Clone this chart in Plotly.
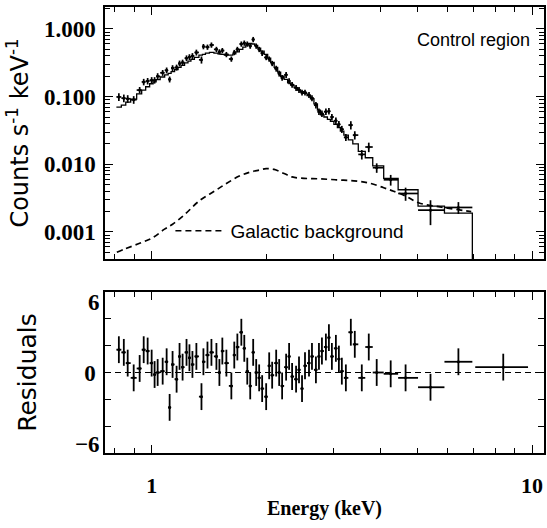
import numpy as np
import plotly.graph_objects as go

# ---------------- data ----------------
energy_kev = [0.820, 0.845, 0.865, 0.897, 0.930, 0.953, 0.976, 1.000, 1.018, 1.037,
              1.069, 1.095, 1.115, 1.135, 1.163, 1.184, 1.206, 1.235, 1.257, 1.280,
              1.311, 1.352, 1.368, 1.402, 1.436, 1.480, 1.507, 1.534, 1.572, 1.620,
              1.649, 1.680, 1.721, 1.752, 1.784, 1.816, 1.849, 1.883, 1.917, 1.952,
              2.000, 2.037, 2.074, 2.125, 2.164, 2.203, 2.257, 2.298, 2.340, 2.397,
              2.440, 2.485, 2.530, 2.592, 2.639, 2.703, 2.753, 2.803, 2.871, 2.924,
              2.977, 3.050, 3.106, 3.162, 3.240, 3.339, 3.420, 3.568, 3.722, 3.905,
              4.250, 4.651, 5.408, 6.403]

counts = [0.099, 0.095, 0.093, 0.090, 0.125, 0.165, 0.170, 0.175, 0.175, 0.200,
          0.225, 0.245, 0.180, 0.265, 0.270, 0.310, 0.320, 0.370, 0.385, 0.400,
          0.450, 0.350, 0.550, 0.540, 0.580, 0.500, 0.460, 0.480, 0.420, 0.360,
          0.450, 0.500, 0.600, 0.620, 0.600, 0.560, 0.700, 0.560, 0.500, 0.440,
          0.380, 0.360, 0.310, 0.260, 0.220, 0.190, 0.210, 0.170, 0.150, 0.135,
          0.126, 0.115, 0.115, 0.106, 0.095, 0.075, 0.060, 0.056, 0.060, 0.061,
          0.050, 0.044, 0.039, 0.033, 0.025, 0.038, 0.027, 0.014, 0.018, 0.0089,
          0.0059, 0.0037, 0.0021, 0.0023]

model = [0.070, 0.075, 0.083, 0.092, 0.110, 0.125, 0.140, 0.155, 0.165, 0.178,
         0.195, 0.210, 0.220, 0.235, 0.250, 0.270, 0.290, 0.315, 0.335, 0.355,
         0.380, 0.410, 0.420, 0.440, 0.450, 0.440, 0.430, 0.420, 0.410, 0.410,
         0.430, 0.460, 0.500, 0.540, 0.580, 0.610, 0.600, 0.570, 0.520, 0.470,
         0.420, 0.370, 0.320, 0.270, 0.230, 0.200, 0.180, 0.160, 0.148, 0.136,
         0.125, 0.118, 0.112, 0.104, 0.093, 0.078, 0.063, 0.054, 0.050, 0.046,
         0.043, 0.039, 0.035, 0.031, 0.027, 0.023, 0.020, 0.0155, 0.0125, 0.0095,
         0.0062, 0.0042, 0.0024, 0.0019]

rel_err = [0.13, 0.13, 0.13, 0.13, 0.11, 0.11, 0.11, 0.11, 0.11, 0.11,
           0.10, 0.10, 0.10, 0.10, 0.10, 0.10, 0.10, 0.10, 0.10, 0.10,
           0.10, 0.12, 0.09, 0.09, 0.09, 0.09, 0.09, 0.09, 0.09, 0.09,
           0.09, 0.09, 0.09, 0.09, 0.09, 0.09, 0.09, 0.09, 0.09, 0.09,
           0.09, 0.09, 0.09, 0.10, 0.10, 0.10, 0.10, 0.10, 0.10, 0.10,
           0.10, 0.10, 0.10, 0.10, 0.10, 0.11, 0.11, 0.11, 0.11, 0.11,
           0.11, 0.12, 0.12, 0.12, 0.12, 0.14, 0.14, 0.16, 0.16, 0.16,
           0.18, 0.22, 0.40, 0.20]

residuals = [1.7, 1.5, 0.7, -0.4, 0.3, 1.7, 1.6, 0.7, -0.15, 0.0,
             0.1, 0.8, -2.6, 0.6, -0.5, 1.2, 0.4, 1.5, 1.1, 0.6,
             1.2, -1.8, 0.8, 1.3, 1.5, 1.2, 0.0, 1.6, 0.7, -1.0,
             1.3, 1.9, 3.0, 1.8, 0.1, -1.0, 1.5, 0.0, -0.4, -1.2,
             -1.8, 0.5, -0.2, 0.7, 0.0, -1.0, 0.4, 1.2, -0.3, -0.5,
             0.2, -1.2, 0.5, 0.7, 1.2, 0.2, 1.2, 1.6, 1.9, 2.6,
             1.2, 1.8, 1.0, 0.1, -0.4, 3.0, 2.1, -0.4, 1.9, 0.0,
             -0.1, -0.4, -1.1, 0.8]

# one extra residual bin beyond the plotted spectrum
extra_res_energy = [8.40]
extra_res_value = [0.4]
extra_res_lo = [7.09]
extra_res_hi = [9.76]

# galactic background model (dashed)
bkg_energy = [0.810, 0.850, 0.930, 1.006, 1.081, 1.135, 1.220, 1.336, 1.462, 1.572,
              1.700, 1.805, 1.917, 2.000, 2.099, 2.230, 2.340, 2.515, 2.753, 3.050,
              3.400, 3.722, 4.073, 4.326, 4.651, 5.030, 5.850, 6.920]
bkg_counts = [0.00050, 0.00056, 0.00068, 0.00082, 0.0011, 0.0013, 0.0018, 0.0029, 0.0040, 0.0052,
              0.0067, 0.0076, 0.0082, 0.0086, 0.0084, 0.0073, 0.0065, 0.0062, 0.0061, 0.0059,
              0.0057, 0.0053, 0.0045, 0.0040, 0.0034, 0.0027, 0.0023, 0.0020]

ytick_vals = [0.001, 0.01, 0.1, 1.0]
ytick_text = ["0.001", "0.010", "0.100", "1.000"]
xtick_vals = [1, 10]
xtick_text = ["1", "10"]
x_minor_vals = [0.8, 0.9, 2, 3, 4, 5, 6, 7, 8, 9]
y_minor_vals = [m * 10.0 ** p for p in (-4, -3, -2, -1, 0) for m in range(2, 10)]
res_tick_vals = [0]
res_tick_text = ["0"]
res_minor_vals = [-6, -4, -2, 2, 4, 6]

# ---------------- derived bin edges ----------------
E = np.array(energy_kev)
C = np.array(counts)
logE = np.log10(E)
mid = 10 ** ((logE[:-1] + logE[1:]) / 2)
lo = np.concatenate([[10 ** (1.5 * logE[0] - 0.5 * logE[1])], mid])
hi = np.concatenate([mid, [10 ** (1.5 * logE[-1] - 0.5 * logE[-2])]])

SERIF = "Liberation Serif"
SANS = "DejaVu Sans"
LAB = "Liberation Sans, Arial"

fig = go.Figure()

# model histogram
fig.add_trace(go.Scatter(
    x=list(lo) + [hi[-1], hi[-1]],
    y=list(model) + [model[-1], 1e-7],
    mode="lines", line=dict(color="black", width=1.3, shape="hv"),
    showlegend=False, xaxis="x", yaxis="y"))

# galactic background
fig.add_trace(go.Scatter(
    x=bkg_energy, y=bkg_counts, mode="lines",
    line=dict(color="black", width=1.7, dash="6px,4px", shape="spline"),
    name="Galactic background", showlegend=True, xaxis="x", yaxis="y"))

# data
fig.add_trace(go.Scatter(
    x=E, y=C, mode="markers", marker=dict(size=3, color="black"),
    error_x=dict(type="data", symmetric=False, array=hi - E, arrayminus=E - lo,
                 width=0, thickness=1.7, color="black"),
    error_y=dict(type="data", array=C * np.array(rel_err), width=0, thickness=1.7, color="black"),
    showlegend=False, xaxis="x", yaxis="y"))

# residuals
rx = np.concatenate([E, extra_res_energy])
rlo = np.concatenate([lo, extra_res_lo])
rhi = np.concatenate([hi, extra_res_hi])
ry = list(residuals) + extra_res_value
fig.add_trace(go.Scatter(
    x=rx, y=ry, mode="markers", marker=dict(size=3, color="black"),
    error_x=dict(type="data", symmetric=False, array=rhi - rx, arrayminus=rx - rlo,
                 width=0, thickness=1.8, color="black"),
    error_y=dict(type="constant", value=1.0, width=0, thickness=1.8, color="black"),
    showlegend=False, xaxis="x2", yaxis="y2"))

fig.add_shape(type="line", xref="x2 domain", x0=0, x1=1, yref="y2", y0=0, y1=0,
              line=dict(color="black", width=1.2, dash="6px,4px"))

axis_common = dict(showline=True, linewidth=1.5, linecolor="black", mirror="allticks",
                   ticks="inside", tickcolor="black", tickwidth=1.3, showgrid=False,
                   zeroline=False)
minor_x = dict(tickmode="array", tickvals=x_minor_vals, ticks="inside", ticklen=5,
               tickcolor="black", tickwidth=1, showgrid=False)
minor_y = dict(tickmode="array", tickvals=y_minor_vals, ticks="inside", ticklen=5,
               tickcolor="black", tickwidth=1, showgrid=False)
minor_r = dict(tickmode="array", tickvals=res_minor_vals, ticks="inside", ticklen=6,
               tickcolor="black", tickwidth=1.3, showgrid=False)

xr = [np.log10(0.754), np.log10(10.75)]
fig.update_layout(
    width=547, height=528,
    margin=dict(l=105, r=1, t=7, b=75),
    paper_bgcolor="white", plot_bgcolor="white",
    xaxis=dict(domain=[0, 1], anchor="y", type="log", range=xr,
               tickmode="array", tickvals=xtick_vals, ticktext=xtick_text,
               showticklabels=False, ticklen=8, minor=minor_x, **axis_common),
    xaxis2=dict(domain=[0, 1], anchor="y2", type="log", range=xr, matches="x",
                tickmode="array", tickvals=xtick_vals, ticktext=xtick_text,
                showticklabels=True, ticklen=8, ticklabelstandoff=12, minor=minor_x,
                tickfont=dict(family=SERIF, size=22, color="black", weight="bold"),
                title=dict(text="Energy (keV)", standoff=4,
                           font=dict(family=SERIF, size=20, color="black", weight="bold")),
                **axis_common),
    yaxis=dict(domain=[0.435, 1], anchor="x", type="log", range=[-3.4, 0.325],
               tickmode="array", tickvals=ytick_vals, ticktext=ytick_text, ticklen=8,
               ticklabelstandoff=3, minor=minor_y,
               tickfont=dict(family=SERIF, size=23, color="black", weight="bold"),
               title=dict(text="Counts s<sup>-1</sup> keV<sup>-1</sup>", standoff=8,
                          font=dict(family=SANS, size=24, color="black")),
               **axis_common),
    yaxis2=dict(domain=[0, 0.361], anchor="x2", range=[-6, 6],
                tickmode="array", tickvals=res_tick_vals, ticktext=res_tick_text, ticklen=6,
                ticklabelstandoff=3, minor=minor_r,
                tickfont=dict(family=SERIF, size=23, color="black", weight="bold"),
                title=dict(text="Residuals", standoff=40,
                           font=dict(family=SANS, size=25, color="black")),
                **axis_common),
    legend=dict(x=0.149, y=0.498, xanchor="left", yanchor="middle",
                bgcolor="rgba(0,0,0,0)", borderwidth=0, itemwidth=50,
                font=dict(family=LAB, size=19, color="black")),
    annotations=[
        dict(text="Control region", xref="paper", yref="paper", x=0.839, y=0.926,
             xanchor="center", yanchor="middle",
             showarrow=False, font=dict(family=LAB, size=18, color="black")),
        dict(text="6", xref="paper", yref="y2", x=0, y=6, xanchor="right", yanchor="top",
             xshift=-3, yshift=4, showarrow=False,
             font=dict(family=SERIF, size=23, color="black", weight="bold")),
        dict(text="\u22126", xref="paper", yref="y2", x=0, y=-6, xanchor="right", yanchor="bottom",
             xshift=-3, yshift=-6, showarrow=False,
             font=dict(family=SERIF, size=23, color="black", weight="bold")),
    ],
)

fig.write_html("out.html", config={"displayModeBar": False},
               post_script="document.body.style.margin='0px';")
